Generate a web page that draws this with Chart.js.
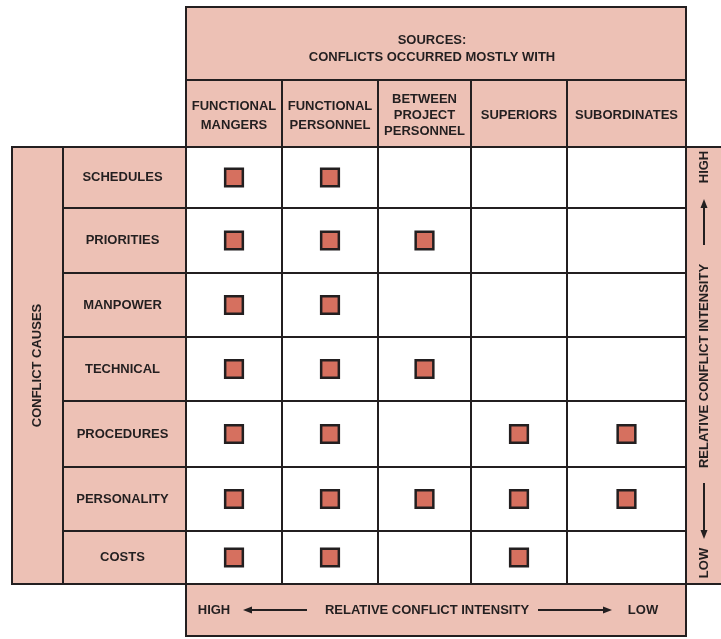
<!DOCTYPE html>
<html>
<head>
<meta charset="utf-8">
<script src="https://cdn.jsdelivr.net/npm/chart.js@4"></script>
<style>
body{margin:0;background:#fff;}
#wrap{width:721px;height:639px;position:relative;}
</style>
</head>
<body>
<div id="wrap"><canvas id="matrix" width="721" height="639"></canvas></div>
<script>
// data
const titleLines=["SOURCES:","CONFLICTS OCCURRED MOSTLY WITH"];
const sideTitle="CONFLICT CAUSES";
const axisTitle="RELATIVE CONFLICT INTENSITY";
const sources=[["FUNCTIONAL","MANGERS"],["FUNCTIONAL","PERSONNEL"],["BETWEEN","PROJECT","PERSONNEL"],["SUPERIORS"],["SUBORDINATES"]];
const causes=["SCHEDULES","PRIORITIES","MANPOWER","TECHNICAL","PROCEDURES","PERSONALITY","COSTS"];
const marks=[
    [1,1,0,0,0],
    [1,1,1,0,0],
    [1,1,0,0,0],
    [1,1,1,0,0],
    [1,1,0,1,1],
    [1,1,1,1,1],
    [1,1,0,1,0]
];

// layout (cell sizes, not data)
const colW=[96,96,93,96,119];
const rowH=[61,65,64,64,66,64,53];
const PINK="#edc1b5", LINE="#231f20", MARK="#d6705f";
const FONT="bold 13px 'Liberation Sans', Arial, sans-serif";

function edges(arr){
    const out=[0];
    arr.forEach(v=>out.push(out[out.length-1]+v));
    return out;
}
const colEdges=edges(colW);
const rowEdges=edges(rowH);

const points=[];
marks.forEach((row,i)=>{
    row.forEach((m,j)=>{
        if(m) points.push({x:colEdges[j]+colW[j]/2, y:rowEdges[i]+rowH[i]/2});
    });
});

function box(ctx,x1,y1,x2,y2){
    ctx.fillStyle=PINK;
    ctx.fillRect(x1,y1,x2-x1,y2-y1);
    ctx.strokeStyle=LINE;
    ctx.lineWidth=2;
    ctx.strokeRect(x1,y1,x2-x1,y2-y1);
}

function arrow(ctx,x1,y1,x2,y2){
    const a=Math.atan2(y2-y1,x2-x1);
    ctx.strokeStyle=LINE;
    ctx.fillStyle=LINE;
    ctx.lineWidth=2;
    ctx.beginPath();
    ctx.moveTo(x1,y1);
    ctx.lineTo(x2-Math.cos(a)*6,y2-Math.sin(a)*6);
    ctx.stroke();
    ctx.beginPath();
    ctx.moveTo(x2,y2);
    ctx.lineTo(x2-Math.cos(a)*9+Math.sin(a)*3.5,y2-Math.sin(a)*9-Math.cos(a)*3.5);
    ctx.lineTo(x2-Math.cos(a)*9-Math.sin(a)*3.5,y2-Math.sin(a)*9+Math.cos(a)*3.5);
    ctx.closePath();
    ctx.fill();
}

const frames={
    id:"frames",
    afterDraw(chart){
        const ctx=chart.ctx;
        const xs=chart.scales.x, ys=chart.scales.y;
        const L=xs.getPixelForValue(0), R=xs.getPixelForValue(colEdges[colEdges.length-1]);
        const T=ys.getPixelForValue(0), B=ys.getPixelForValue(rowEdges[rowEdges.length-1]);
        ctx.save();
        ctx.font=FONT;
        ctx.textAlign="center";
        ctx.textBaseline="middle";

        // top title
        box(ctx,L,7,R,80);
        ctx.fillStyle=LINE;
        ctx.fillText(titleLines[0],(L+R)/2-4,40);
        ctx.fillText(titleLines[1],(L+R)/2-4,57);

        // column headers
        sources.forEach((lines,j)=>{
            const x1=xs.getPixelForValue(colEdges[j]), x2=xs.getPixelForValue(colEdges[j+1]);
            box(ctx,x1,80,x2,T);
            ctx.fillStyle=LINE;
            const gap=lines.length>2?16:19;
            const cy=(80+T)/2+2;
            lines.forEach((s,k)=>{
                ctx.fillText(s,(x1+x2)/2,cy+(k-(lines.length-1)/2)*gap);
            });
        });

        // row labels
        box(ctx,12,T,63,B);
        causes.forEach((c,i)=>{
            const y1=ys.getPixelForValue(rowEdges[i]), y2=ys.getPixelForValue(rowEdges[i+1]);
            box(ctx,63,y1,L,y2);
            ctx.fillStyle=LINE;
            ctx.fillText(c,(63+L)/2-2,(y1+y2)/2);
        });
        ctx.save();
        ctx.translate(37,(T+B)/2);
        ctx.rotate(-Math.PI/2);
        ctx.fillStyle=LINE;
        ctx.fillText(sideTitle,0,0);
        ctx.restore();

        // right intensity bar
        box(ctx,R,T,R+40,B);
        const rx=R+18;
        ctx.save();
        ctx.translate(rx,0);
        ctx.rotate(-Math.PI/2);
        ctx.fillStyle=LINE;
        ctx.fillText("HIGH",-167,0);
        ctx.fillText(axisTitle,-366,0);
        ctx.fillText("LOW",-563,0);
        ctx.restore();
        arrow(ctx,rx,245,rx,199);
        arrow(ctx,rx,483,rx,539);

        // bottom intensity bar
        box(ctx,L,B,R,636);
        const by=(B+636)/2;
        ctx.fillStyle=LINE;
        ctx.fillText("HIGH",214,by);
        ctx.fillText(axisTitle,427,by);
        ctx.fillText("LOW",643,by);
        arrow(ctx,307,by,243,by);
        arrow(ctx,538,by,612,by);
        ctx.restore();
    }
};

new Chart(document.getElementById("matrix").getContext("2d"),{
    type:"scatter",
    data:{
        datasets:[{
            data:points,
            pointStyle:"rect",
            pointRadius:12.5,
            pointHoverRadius:12.5,
            backgroundColor:MARK,
            borderColor:LINE,
            borderWidth:2.5
        }]
    },
    options:{
        responsive:false,
        animation:false,
        events:[],
        layout:{padding:{left:186,right:35,top:147,bottom:55}},
        plugins:{legend:{display:false},tooltip:{enabled:false}},
        scales:{
            x:{
                type:"linear",min:0,max:colEdges[colEdges.length-1],
                afterBuildTicks:s=>{s.ticks=colEdges.map(v=>({value:v}));},
                ticks:{display:false},
                grid:{color:LINE,lineWidth:2,drawTicks:false},
                border:{color:LINE,width:2}
            },
            y:{
                type:"linear",reverse:true,min:0,max:rowEdges[rowEdges.length-1],
                afterBuildTicks:s=>{s.ticks=rowEdges.map(v=>({value:v}));},
                ticks:{display:false},
                grid:{color:LINE,lineWidth:2,drawTicks:false},
                border:{color:LINE,width:2}
            }
        }
    },
    plugins:[frames]
});
</script>
</body>
</html>
